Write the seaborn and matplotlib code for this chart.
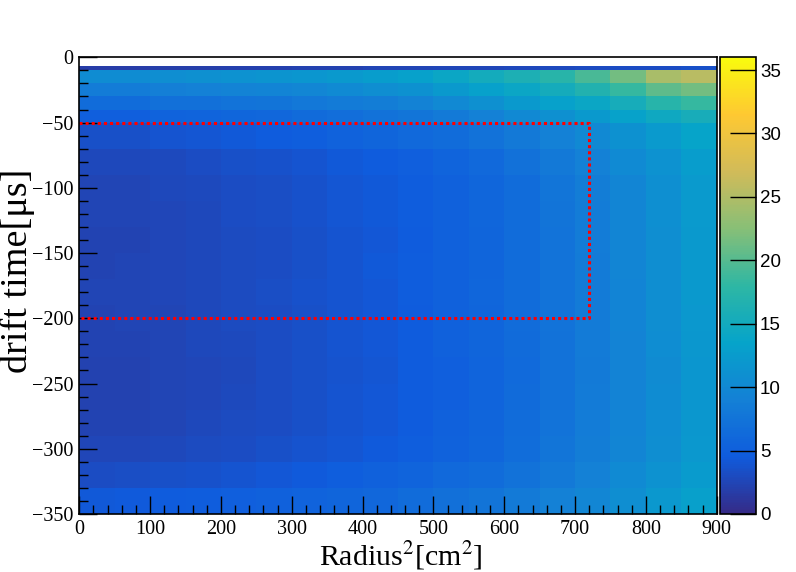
import numpy as np
import pandas as pd
import seaborn as sns
import matplotlib.pyplot as plt
from matplotlib.colors import LinearSegmentedColormap

# bin edges (coarse grid)
x_edges = [0, 50, 100, 150, 200, 250, 300, 350, 400, 450, 500, 550, 600, 650, 700, 750, 800, 850, 900]
y_edges = [-350, -330, -310, -290, -270, -250, -230, -210, -190, -170, -150, -130, -110, -90, -70, -50,
           -40, -30, -20, -10, -7]

# estimated counts per band, bottom (-350) to top (-7), one value per 50 cm^2 column
r_350 = [4.3, 4.4, 4.5, 4.7, 5.0, 5.2, 5.4, 5.7, 6.0, 6.5, 7.0, 7.5, 8.2, 9.0, 9.8, 10.8, 12.0, 13.0]
r_330 = [3.2, 3.3, 3.4, 3.6, 3.9, 4.1, 4.4, 4.8, 5.1, 5.6, 6.1, 6.6, 7.3, 8.1, 9.1, 10.2, 11.3, 12.4]
r_310 = [2.6, 2.6, 2.8, 3.0, 3.2, 3.4, 3.7, 4.0, 4.4, 4.8, 5.3, 5.9, 6.7, 7.6, 8.6, 9.7, 10.8, 12.0]
r_290 = [2.3, 2.3, 2.5, 2.7, 3.0, 3.2, 3.5, 3.9, 4.2, 4.6, 5.1, 5.7, 6.5, 7.4, 8.5, 9.5, 10.6, 11.9]
r_270 = [2.2, 2.2, 2.4, 2.6, 2.9, 3.1, 3.4, 3.8, 4.1, 4.6, 5.0, 5.6, 6.4, 7.3, 8.3, 9.4, 10.5, 11.7]
r_250 = [2.2, 2.2, 2.4, 2.6, 2.8, 3.1, 3.4, 3.7, 4.0, 4.5, 5.0, 5.6, 6.3, 7.2, 8.2, 9.3, 10.4, 11.8]
r_230 = [2.3, 2.3, 2.5, 2.7, 2.9, 3.2, 3.5, 3.8, 4.1, 4.6, 5.1, 5.7, 6.4, 7.3, 8.3, 9.4, 10.6, 11.9]
r_210 = [2.3, 2.4, 2.5, 2.7, 3.0, 3.2, 3.5, 3.8, 4.2, 4.6, 5.1, 5.7, 6.5, 7.4, 8.4, 9.5, 10.7, 12.0]
r_190 = [2.4, 2.4, 2.6, 2.8, 3.0, 3.3, 3.6, 3.9, 4.2, 4.7, 5.1, 5.8, 6.5, 7.4, 8.4, 9.5, 10.7, 12.1]
r_170 = [2.3, 2.4, 2.6, 2.7, 3.0, 3.2, 3.5, 3.9, 4.3, 4.7, 5.1, 5.7, 6.5, 7.4, 8.4, 9.6, 10.8, 12.1]
r_150 = [2.3, 2.3, 2.6, 2.7, 3.0, 3.2, 3.5, 3.9, 4.2, 4.6, 5.1, 5.7, 6.5, 7.4, 8.5, 9.6, 10.8, 12.2]
r_130 = [2.4, 2.4, 2.6, 2.8, 3.1, 3.3, 3.6, 4.0, 4.3, 4.7, 5.1, 5.8, 6.6, 7.5, 8.5, 9.7, 10.9, 12.3]
r_110 = [2.5, 2.5, 2.7, 2.9, 3.1, 3.3, 3.6, 4.0, 4.3, 4.7, 5.2, 5.8, 6.6, 7.6, 8.6, 9.7, 10.9, 12.3]
r_90 = [2.7, 2.7, 2.9, 3.1, 3.4, 3.6, 3.9, 4.3, 4.6, 5.0, 5.5, 6.1, 7.1, 8.1, 9.1, 10.2, 11.3, 12.7]
r_70 = [3.5, 3.5, 3.8, 4.0, 4.3, 4.5, 4.9, 5.3, 5.7, 6.1, 6.6, 7.2, 8.1, 9.1, 10.1, 11.2, 12.3, 13.5]
r_50 = [5.0, 5.0, 5.4, 5.5, 5.9, 6.0, 6.4, 6.8, 7.2, 7.6, 8.2, 9.1, 10.1, 11.1, 12.2, 13.3, 14.5, 15.5]
r_40 = [6.5, 6.5, 6.9, 7.0, 7.4, 7.5, 7.9, 8.3, 8.7, 9.2, 10.1, 11.1, 12.1, 13.1, 14.2, 15.4, 17.2, 18.3]
r_30 = [8.5, 8.5, 8.8, 9.0, 9.3, 9.5, 9.8, 10.2, 10.7, 11.2, 12.1, 13.1, 14.1, 15.2, 16.7, 18.3, 20.4, 21.4]
r_20 = [10.5, 10.5, 10.8, 11.0, 11.3, 11.5, 11.8, 12.2, 12.7, 13.2, 14.1, 15.1, 16.1, 17.3, 19.3, 21.5, 24.5, 25.5]
r_10 = [1.8, 1.8, 1.9, 1.9, 2.0, 2.0, 2.2, 2.2, 2.4, 2.4, 2.6, 2.6, 2.8, 2.9, 3.0, 3.1, 3.2, 3.4]

bands = [r_350, r_330, r_310, r_290, r_270, r_250, r_230, r_210, r_190, r_170,
         r_150, r_130, r_110, r_90, r_70, r_50, r_40, r_30, r_20, r_10]

# ROOT "kBird" palette
bird = LinearSegmentedColormap.from_list("bird", [
    (0.2082, 0.1664, 0.5293), (0.0592, 0.3599, 0.8684), (0.0780, 0.5041, 0.8385),
    (0.0232, 0.6419, 0.7914), (0.1802, 0.7178, 0.6425), (0.5301, 0.7492, 0.4662),
    (0.8186, 0.7328, 0.3499), (0.9956, 0.7862, 0.1968), (0.9764, 0.9832, 0.0539)])

x_c = [(x_edges[i] + x_edges[i + 1]) / 2 for i in range(len(x_edges) - 1)]
y_c = [(y_edges[j] + y_edges[j + 1]) / 2 for j in range(len(y_edges) - 1)]
recs = []
for j, band in enumerate(bands):
    for i, v in enumerate(band):
        recs.append((x_c[i], y_c[j], v))
df = pd.DataFrame(recs, columns=['r2', 't', 'n'])

plt.rcParams['mathtext.fontset'] = 'stix'

fig = plt.figure(figsize=(7.96, 5.72), dpi=100)
ax = fig.add_axes([0.0996, 0.1014, 0.8008, 0.7984])
cax = fig.add_axes([0.9045, 0.1014, 0.045, 0.7984])

sns.histplot(data=df, x='r2', y='t', weights='n', bins=[x_edges, y_edges], ax=ax,
             cmap=bird, vmin=0, vmax=36, cbar=True, cbar_ax=cax)

# selection box
ax.plot([0, 720, 720, 0], [-50, -50, -200, -200], color='red', lw=2.2, ls=(0, (1, 1)))

ax.set_xlim(0, 900)
ax.set_ylim(-350, 0)
ax.set_xlabel('')
ax.set_ylabel('')
ax.set_xticks(range(0, 901, 100))
ax.set_xticks(range(0, 901, 20), minor=True)
ax.set_yticks(range(-350, 1, 50))
ax.set_yticks(range(-350, 1, 10), minor=True)
ax.tick_params(which='both', direction='in', top=False, right=False, colors='black',
               labelsize=14.5, labelfontfamily='Liberation Serif')
ax.tick_params(which='major', length=13, width=1, pad=4)
ax.tick_params(which='minor', length=6.5, width=1)
for s in ax.spines.values():
    s.set_linewidth(1.2)

cax.set_ylim(0, 36)
cax.set_yticks(range(0, 36, 5))
cax.tick_params(direction='in', length=19, width=1, left=False, right=True,
                labelsize=13.5, labelfontfamily='Liberation Sans', pad=3)
for s in cax.spines.values():
    s.set_linewidth(1.2)

fig.text(0.504, 0.0122, 'Radius$^{2}$[cm$^{2}$]', ha='center', va='baseline',
         fontsize=21.5, family='Liberation Serif')
fig.text(0.022, 0.526, 'drift time[μs]', ha='center', va='center', rotation=90,
         fontsize=27.5, family='Liberation Serif')

fig.savefig('out.png', dpi=100)
